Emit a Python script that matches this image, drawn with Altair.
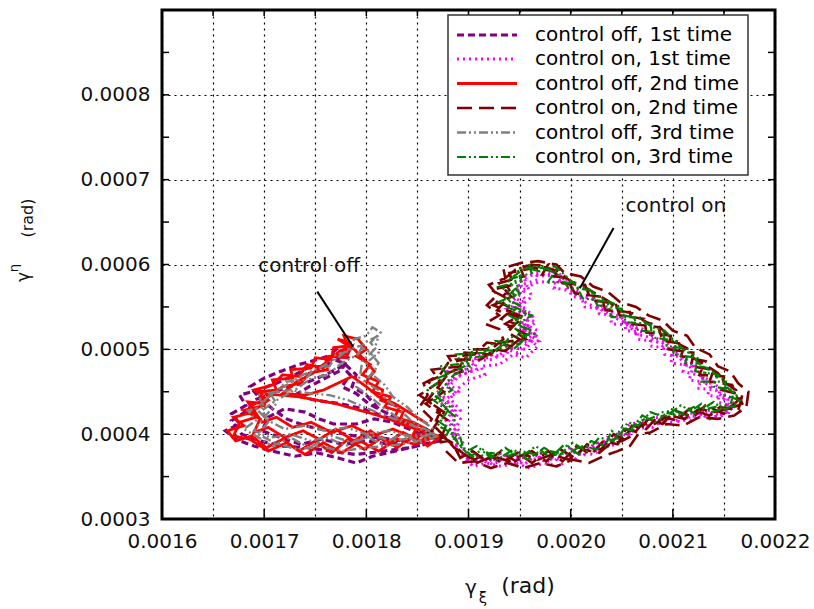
import altair as alt
import pandas as pd

FONT = "DejaVu Sans"

series_names = ["control off, 1st time", "control on, 1st time", "control off, 2nd time",
                "control on, 2nd time", "control off, 3rd time", "control on, 3rd time"]
series_colors = ["#800080", "#ff00ff", "#ff0000", "#800000", "#808080", "#008000"]
series_dash = [[7, 4], [2, 4], [1, 0], [15, 7], [9, 3, 2, 3, 2, 3], [9, 3, 2, 3, 2, 3]]
series_width = [3.2, 2.2, 1.2, 2.2, 2.0, 2.2]

# trajectories in micro-radians (gamma_xi, gamma_eta)
off1 = [(1872,392),(1850,386),(1828,380),(1806,374),(1790,366),(1772,372),(1752,378),(1730,374),(1708,380),(1690,386),
        (1672,394),(1662,404),(1676,412),(1668,424),(1682,434),(1676,446),(1694,452),(1712,460),(1730,470),(1742,478),
        (1758,480),(1772,488),(1780,496),(1770,500),(1762,490),(1778,484),(1790,470),(1786,456),(1800,446),(1812,430),
        (1830,418),(1848,408),(1868,396),
        (1846,394),(1824,388),(1800,392),(1778,388),(1756,394),(1736,388),(1716,396),(1698,404),(1704,420),(1720,430),
        (1740,426),(1754,418),(1768,412),(1790,412),(1808,418),(1826,414),(1846,404),(1870,392),
        (1842,384),(1816,380),(1790,376),(1766,380),(1742,384),(1718,386),(1696,392),(1678,400),(1668,416),(1684,428),
        (1690,440),(1706,448),(1724,456),(1744,462),(1760,470),(1776,480),(1784,470),(1776,456),(1790,448),(1802,436),
        (1818,426),(1840,412),(1858,400),
        (1836,392),(1812,396),(1788,398),(1762,404),(1740,410),(1722,418),(1708,430),(1696,442),(1686,456),(1700,466),
        (1716,474),(1734,482),(1752,488),(1768,494),(1782,490),(1776,476),(1760,466),(1744,456),(1730,446),(1750,440),
        (1774,436),(1796,430),(1820,420),(1846,406)]

on1 = [(1884,398),(1892,418),(1872,438),(1890,450),(1878,462),(1902,474),(1896,488),(1920,490),(1932,504),(1956,500),
       (1966,516),(1950,526),(1962,538),(1938,548),(1956,558),(1946,574),(1968,582),(1966,592),(1990,586),(1984,572),
       (2008,568),(2014,550),(2038,546),(2040,530),(2064,528),(2066,512),(2090,508),(2092,494),(2114,490),(2110,474),
       (2130,468),(2124,454),(2146,452),(2144,438),(2160,432),(2146,420),(2134,428),(2118,416),(2104,424),(2088,412),
       (2074,418),(2062,402),(2052,406),(2046,392),(2036,396),(2030,380),(2016,386),(2004,370),(1990,382),(1976,366),
       (1962,380),(1946,366),(1932,378),(1918,366),(1904,380),(1898,372),(1894,392),
       (1878,410),(1888,430),(1868,448),(1886,466),(1880,474),(1906,478),(1910,494),(1936,492),(1944,508),(1968,510),
       (1954,522),(1966,532),(1942,544),(1952,556),(1938,566),(1958,572),(1954,586),(1978,590),(1994,578),(2002,562),
       (2024,560),(2028,542),(2052,538),(2054,522),(2078,520),(2078,504),(2102,500),(2098,484),(2120,480),(2116,464),
       (2138,460),(2134,446),(2154,442),(2152,426),(2136,418),(2124,426),(2108,414),(2094,420),(2080,408),(2066,414),
       (2056,398),(2046,402),(2038,386),(2024,390),(2012,374),(1998,384),(1984,368),(1970,378),(1954,364),(1940,376),
       (1924,364),(1910,376),(1898,368),(1888,384),
       (1888,404),(1878,416),(1886,430),(1874,446),(1882,458),(1892,470),(1908,476),(1902,486),(1924,488),(1938,500),
       (1948,496),(1960,510),(1950,518),(1958,528),(1946,536),(1956,548),(1942,556),(1954,568),(1950,580),(1962,588),
       (1976,586),(1988,590),(1998,576),(2008,564),(2020,560),(2034,548),(2048,540),(2056,528),(2070,524),(2082,514),
       (2094,508),(2102,498),(2112,488),(2122,482),(2126,470),(2138,462),(2146,454),(2152,444),(2160,436),(2154,424),
       (2142,424),(2128,420),(2114,422),(2100,414),(2086,416),(2074,408),(2062,406),(2052,394),(2044,388),(2032,384),
       (2022,376),(2006,380),(1992,370),(1976,374),(1962,370),(1948,374),(1934,368),(1918,372),(1904,366),(1892,378),
       (1886,394),
       (1892,402),(1884,414),(1892,428),(1882,442),(1890,454),(1900,464),(1916,470),(1912,480),(1930,482),(1944,494),
       (1956,490),(1968,504),(1958,512),(1968,522),(1954,530),(1962,542),(1950,550),(1962,562),(1958,574),(1970,580),
       (1984,578),(1996,582),(2004,566),(2016,554),(2028,548),(2042,538),(2056,530),(2064,518),(2078,514),(2090,504),
       (2102,498),(2108,488),(2118,478),(2126,472),(2132,460),(2142,452),(2148,444),(2154,436),(2150,426),(2136,428),
       (2122,424),(2110,426),(2096,418),(2082,420),(2070,414),(2058,412),(2048,400),(2040,394),(2028,390),(2018,382),
       (2004,386),(1990,362),(1974,366),(1960,360),(1946,366),(1932,362),(1918,366),(1904,362),(1896,376)]

off2 = [(1874,398),(1860,386),(1846,398),(1830,384),(1815,396),(1798,382),(1782,394),(1766,378),(1750,392),(1734,380),
        (1718,394),(1702,384),(1688,398),(1672,392),(1664,404),(1680,410),(1670,420),(1690,426),(1684,438),(1700,436),
        (1694,450),(1712,452),(1708,464),(1728,466),(1726,476),(1746,478),(1750,490),(1766,488),(1768,502),(1782,504),
        (1778,516),(1792,512),(1800,500),(1790,492),(1804,482),(1796,470),(1812,462),(1806,450),(1824,444),(1818,432),
        (1836,426),(1832,414),(1850,410),(1846,400),(1866,400),
        (1852,392),(1836,402),(1820,390),(1804,404),(1788,392),(1770,406),(1754,394),(1738,404),(1720,396),(1704,408),
        (1690,402),(1696,418),(1680,428),(1700,434),(1696,448),(1716,446),(1734,444),(1752,440),(1770,436),(1788,430),
        (1806,424),(1822,418),(1838,410),(1856,404),(1870,398),
        (1848,388),(1830,394),(1812,380),(1794,392),(1776,378),(1758,390),(1740,376),(1722,390),(1704,380),(1686,394),
        (1670,398),(1676,414),(1692,420),(1688,434),(1702,442),(1718,456),(1736,460),(1744,472),(1762,476),(1760,490),
        (1778,494),(1784,508),(1772,512),(1788,500),(1798,488),(1808,474),(1800,462),(1816,452),(1814,440),(1832,432),
        (1828,420),(1846,414),(1862,404),
        (1846,396),(1826,406),(1806,398),(1786,410),(1766,402),(1746,414),(1728,408),(1712,420),(1698,414),(1690,428),
        (1704,440),(1690,452),(1708,458),(1718,470),(1734,468),(1742,482),(1758,478),(1764,492),(1780,490),(1786,504),
        (1774,498),(1762,486),(1748,472),(1732,462),(1718,448),(1740,446),(1758,452),(1772,460),(1786,468),(1800,456),
        (1812,444),(1828,436),(1844,424),(1860,412)]

on2 = [(1872,392),(1880,416),(1858,436),(1876,450),(1860,462),(1888,476),(1880,492),(1906,494),(1918,508),(1942,504),
       (1956,518),(1936,530),(1950,540),(1924,552),(1942,562),(1930,578),(1954,586),(1950,598),(1978,600),(1972,588),
       (1996,584),(2004,566),(2030,562),(2034,546),(2058,544),(2060,530),(2086,526),(2090,510),(2112,506),(2108,492),
       (2132,486),(2126,470),(2150,468),(2148,452),(2168,446),(2164,428),(2146,432),(2136,422),(2116,430),(2104,416),
       (2086,422),(2074,406),(2060,410),(2052,394),(2042,400),(2030,382),(2016,388),(2004,372),(1990,382),(1976,368),
       (1962,380),(1946,368),(1932,380),(1918,368),(1904,380),(1892,372),(1884,390),
       (1864,404),(1876,426),(1852,446),(1872,462),(1864,476),(1892,480),(1896,496),(1922,494),(1932,508),(1956,512),
       (1940,526),(1954,536),(1928,546),(1938,560),(1922,570),(1944,576),(1940,590),(1964,596),(1984,592),(1992,578),
       (2014,576),(2020,558),(2044,554),(2048,540),(2072,536),(2074,520),(2098,516),(2096,500),(2120,496),(2118,480),
       (2140,476),(2136,462),(2158,458),(2164,440),(2150,424),(2132,434),(2120,420),(2102,428),(2090,412),(2076,418),
       (2066,402),(2054,406),(2046,388),(2032,392),(2020,376),(2006,386),(1992,368),(1978,380),(1962,366),(1948,378),
       (1932,366),(1918,378),(1906,370),(1886,384),
       (1876,398),(1866,410),(1872,426),(1860,440),(1868,452),(1878,468),(1894,474),(1888,488),(1912,488),(1926,500),
       (1936,498),(1950,512),(1938,520),(1946,530),(1932,536),(1944,548),(1928,556),(1940,570),(1934,582),(1946,594),
       (1962,600),(1978,596),(1988,592),(2000,580),(2010,576),(2024,566),(2038,556),(2046,546),(2062,542),(2074,532),
       (2086,528),(2094,518),(2106,506),(2116,500),(2120,490),(2134,480),(2144,472),(2152,460),(2162,452),(2168,436),
       (2156,430),(2140,426),(2126,430),(2112,418),(2096,422),(2082,412),(2070,412),(2060,398),(2050,392),(2038,388),
       (2028,378),(2012,382),(1998,370),(1982,376),(1968,370),(1954,376),(1940,368),(1924,374),(1908,366),(1894,378),
       (1880,392),
       (1870,390),(1858,404),(1864,418),(1852,432),(1860,446),(1856,460),(1872,470),(1880,484),(1896,488),(1904,500),
       (1922,500),(1934,512),(1930,524),(1916,530),(1930,540),(1918,552),(1928,564),(1920,576),(1936,584),(1934,596),
       (1952,602),(1968,604),(1986,600),(1994,590),(2010,586),(2022,574),(2036,568),(2048,556),(2064,550),(2076,540),
       (2090,534),(2100,522),(2114,516),(2122,502),(2136,494),(2144,480),(2156,474),(2164,460),(2174,450),(2172,432),
       (2160,422),(2144,418),(2126,420),(2110,410),(2094,412),(2078,402),(2066,400),(2058,386),(2046,380),(2032,374),
       (2018,366),(2002,370),(1986,362),(1970,366),(1954,360),(1938,366),(1922,360),(1906,368),(1890,366),(1878,380)]

off3 = [(1870,398),(1852,390),(1834,400),(1816,388),(1798,398),(1780,386),(1762,396),(1744,384),(1726,396),(1708,386),
        (1692,398),(1680,406),(1692,416),(1684,428),(1700,432),(1694,446),(1712,450),(1722,462),(1740,464),(1748,476),
        (1764,480),(1770,494),(1784,498),(1788,512),(1800,516),(1806,526),(1814,520),(1804,508),(1812,496),(1800,484),
        (1806,472),(1798,462),(1812,452),(1820,440),(1832,430),(1842,418),(1854,408),(1868,400),
        (1846,396),(1826,392),(1806,398),(1786,390),(1766,398),(1746,392),(1726,400),(1706,396),(1690,404),(1700,420),
        (1712,436),(1706,448),(1726,452),(1746,448),(1764,446),(1782,440),(1798,432),(1814,424),(1832,416),(1850,408),
        (1868,398),
        (1844,390),(1820,386),(1798,384),(1776,380),(1754,386),(1732,382),(1710,390),(1694,400),(1704,414),(1698,428),
        (1712,440),(1730,452),(1746,466),(1762,470),(1776,484),(1792,494),(1798,508),(1812,516),(1808,500),(1796,486),
        (1794,470),(1790,456),(1804,444),(1816,432),(1830,420),(1846,410),(1864,400),
        (1842,398),(1822,404),(1800,400),(1780,408),(1760,404),(1740,410),(1720,406),(1704,416),(1692,430),(1706,446),
        (1722,458),(1738,470),(1754,478),(1770,488),(1782,500),(1794,504),(1804,496),(1812,484),(1806,470),(1818,458),
        (1826,444),(1840,432),(1852,418),(1866,406)]

on3 = [(1878,398),(1888,420),(1866,440),(1884,452),(1870,466),(1896,480),(1888,494),(1915,496),(1926,510),(1950,506),
       (1962,522),(1944,532),(1958,544),(1930,556),(1950,566),(1938,582),(1962,590),(1958,600),(1985,592),(1978,580),
       (2004,578),(2012,560),(2036,556),(2040,538),(2062,538),(2066,522),(2090,520),(2094,504),(2116,500),(2112,484),
       (2134,478),(2128,462),(2152,462),(2150,446),(2166,440),(2150,428),(2140,438),(2122,424),(2108,434),(2092,420),
       (2078,426),(2066,410),(2056,414),(2048,398),(2040,404),(2034,386),(2020,392),(2008,376),(1994,388),(1980,372),
       (1966,386),(1950,372),(1936,384),(1922,372),(1908,386),(1896,378),(1892,396),
       (1870,410),(1882,432),(1860,452),(1880,470),(1872,480),(1900,484),(1904,500),(1930,498),(1940,514),(1964,518),
       (1948,530),(1962,540),(1936,550),(1946,564),(1930,574),(1952,580),(1948,594),(1972,598),(1990,586),(1998,572),
       (2020,570),(2026,552),(2050,548),(2054,532),(2078,530),(2080,514),(2104,510),(2100,494),(2124,490),(2122,474),
       (2144,470),(2140,456),(2160,452),(2156,432),(2138,426),(2128,436),(2112,422),(2098,430),(2084,414),(2070,422),
       (2060,404),(2050,408),(2042,392),(2028,396),(2016,380),(2002,390),(1988,374),(1974,384),(1958,370),(1944,382),
       (1928,370),(1914,382),(1902,374),(1890,388),
       (1884,404),(1872,414),(1880,428),(1868,444),(1876,456),(1886,470),(1902,478),(1896,490),(1918,492),(1934,506),
       (1944,500),(1956,514),(1946,524),(1952,532),(1940,540),(1950,552),(1936,560),(1948,574),(1944,586),(1956,596),
       (1970,592),(1984,598),(1994,588),(2006,574),(2016,572),(2030,560),(2046,552),(2052,540),(2068,536),(2080,526),
       (2092,522),(2100,512),(2110,500),(2120,494),(2124,484),(2138,474),(2148,466),(2154,454),(2164,444),(2160,432),
       (2148,434),(2134,430),(2120,432),(2106,422),(2090,426),(2078,418),(2066,416),(2056,402),(2048,396),(2036,392),
       (2026,382),(2010,386),(1996,376),(1980,380),(1966,376),(1952,380),(1938,374),(1922,378),(1906,372),(1894,384),
       (1884,398)]

series_data = [off1, on1, off2, on2, off3, on3]

# axis values
x_major = [0.0016, 0.0017, 0.0018, 0.0019, 0.0020, 0.0021, 0.0022]
x_half = [0.0016, 0.00165, 0.0017, 0.00175, 0.0018, 0.00185, 0.0019, 0.00195,
          0.0020, 0.00205, 0.0021, 0.00215, 0.0022]
y_major = [0.0003, 0.0004, 0.0005, 0.0006, 0.0007, 0.0008]
y_half = [0.00035, 0.0004, 0.00045, 0.0005, 0.00055, 0.0006, 0.00065, 0.0007,
          0.00075, 0.0008, 0.00085]

# annotations (micro-radians)
ann_labels = ["control off", "control on"]
ann_text_x = [1744, 2103]
ann_text_y = [598, 669]
ann_line_x1 = [1752, 2042]
ann_line_y1 = [568, 643]
ann_line_x2 = [1787, 2009]
ann_line_y2 = [503, 572]

rows = []
for name, pts in zip(series_names, series_data):
    for i, (xv, yv) in enumerate(pts):
        rows.append({"series": name, "idx": i, "x": xv * 1e-6, "y": yv * 1e-6})
df = pd.DataFrame(rows)

W, H = 613, 509
xs = alt.Scale(domain=[0.0016, 0.0022], nice=False, zero=False)
ys = alt.Scale(domain=[0.0003, 0.0009], nice=False, zero=False)

ax_x = alt.Axis(values=x_half, title=None, grid=True, ticks=False, domain=False,
                labelFlush=False, labelOverlap=False, labelPadding=12,
                labelExpr="abs(datum.value*10000 - round(datum.value*10000)) < 0.1 ? format(datum.value, '.4f') : ''")
ax_y = alt.Axis(values=y_major, title=None, grid=True, ticks=False, domain=False,
                labelFlush=False, labelOverlap=False, labelPadding=12, format=".4f")

nb = "\u00a0" * 7
leg = alt.Legend(title=None, orient="none", legendX=286, legendY=5,
                 symbolType="M-3,0L3,0", symbolSize=400, symbolOffset=19,
                 labelOffset=36, labelLimit=500, labelFontSize=20, labelFont=FONT,
                 labelColor="#000", rowPadding=2.5, padding=8,
                 strokeColor="#333", fillColor="white",
                 labelExpr="datum.label + '" + nb + "'")

lines = alt.Chart(df).mark_line().encode(
    x=alt.X("x:Q", scale=xs, axis=ax_x),
    y=alt.Y("y:Q", scale=ys, axis=ax_y),
    color=alt.Color("series:N", scale=alt.Scale(domain=series_names, range=series_colors), legend=leg),
    strokeDash=alt.StrokeDash("series:N", scale=alt.Scale(domain=series_names, range=series_dash), legend=leg),
    strokeWidth=alt.StrokeWidth("series:N", scale=alt.Scale(domain=series_names, range=series_width), legend=leg),
    order=alt.Order("idx:Q"),
)

tick_x_bottom = alt.Chart(pd.DataFrame({"v": x_major[1:-1]})).mark_rule(color="black", strokeWidth=1.5).encode(
    x=alt.X("v:Q", scale=xs, axis=ax_x), y=alt.value(H), y2=alt.value(H - 10))
tick_x_top = alt.Chart(pd.DataFrame({"v": x_half[1:-1]})).mark_rule(color="black", strokeWidth=1.5).encode(
    x=alt.X("v:Q", scale=xs, axis=ax_x), y=alt.value(0), y2=alt.value(6))
tick_y_left = alt.Chart(pd.DataFrame({"v": y_half})).mark_rule(color="black", strokeWidth=1.5).encode(
    y=alt.Y("v:Q", scale=ys, axis=ax_y), x=alt.value(0), x2=alt.value(7))
tick_y_right = alt.Chart(pd.DataFrame({"v": y_half})).mark_rule(color="black", strokeWidth=1.5).encode(
    y=alt.Y("v:Q", scale=ys, axis=ax_y), x=alt.value(W), x2=alt.value(W - 7))

ann_df = pd.DataFrame({"label": ann_labels,
                       "tx": [v * 1e-6 for v in ann_text_x], "ty": [v * 1e-6 for v in ann_text_y],
                       "x1": [v * 1e-6 for v in ann_line_x1], "y1": [v * 1e-6 for v in ann_line_y1],
                       "x2": [v * 1e-6 for v in ann_line_x2], "y2": [v * 1e-6 for v in ann_line_y2]})
ann_lines = alt.Chart(ann_df).mark_rule(color="black", strokeWidth=2).encode(
    x=alt.X("x1:Q", scale=xs, axis=ax_x), y=alt.Y("y1:Q", scale=ys, axis=ax_y), x2="x2:Q", y2="y2:Q")
ann_text = alt.Chart(ann_df).mark_text(font=FONT, fontSize=20, color="#111").encode(
    x=alt.X("tx:Q", scale=xs, axis=ax_x), y=alt.Y("ty:Q", scale=ys, axis=ax_y), text="label:N")

title_df = pd.DataFrame({"t": ["x"]})
def title_text(txt, x, y, size, angle=0):
    return alt.Chart(title_df).mark_text(text=txt, font=FONT, fontSize=size, color="#111",
                                         align="center", baseline="middle").encode(
        x=alt.value(x), y=alt.value(y), angle=alt.value(angle))

titles = [
    title_text("γ", 309, 578, 20),
    title_text("ξ", 321, 588, 15),
    title_text("(rad)", 366, 576, 22),
    title_text("(rad)", -134, 208, 16, 270),
    title_text("γ", -138, 267, 17, 270),
    title_text("η", -148, 258, 13, 270),
]

chart = alt.layer(lines, tick_x_bottom, tick_x_top, tick_y_left, tick_y_right,
                  ann_lines, ann_text, *titles).properties(
    width=W, height=H,
    padding={"left": 162, "top": 10, "right": 39, "bottom": 90},
    autosize=alt.AutoSizeParams(type="none"),
).configure_view(stroke="black", strokeWidth=3).configure_axis(
    labelFont=FONT, labelFontSize=20, labelColor="#111",
    gridColor="#000", gridDash=[2, 4], gridOpacity=1, gridWidth=1.2,
).configure_legend(strokeWidth=1.5)

chart.save("out.html", embed_options={"renderer": "svg", "actions": False})
